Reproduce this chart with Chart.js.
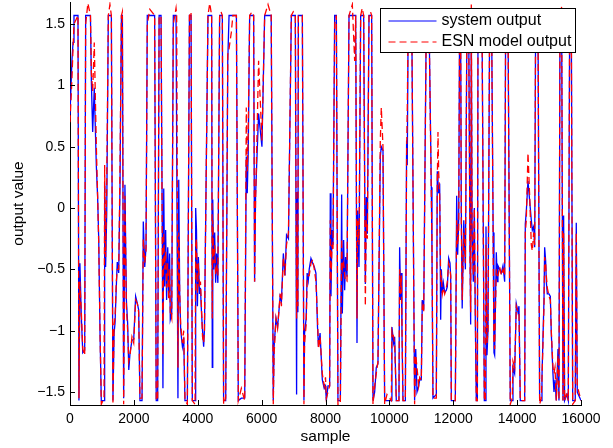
<!DOCTYPE html>
<html>
<head>
<meta charset="utf-8">
<script src="https://cdn.jsdelivr.net/npm/chart.js@4"></script>
<style>
  html, body { margin: 0; padding: 0; background: #fff; }
  #wrap { width: 613px; height: 448px; }
</style>
</head>
<body>
<div id="wrap"><canvas id="myChart" width="613" height="448"></canvas></div>
<script>
// sample index of each breakpoint
var sampleIdx = [
  0, 60, 95, 125, 250, 280, 310, 355, 400, 460, 490, 560, 640, 670, 710, 760, 825, 865, 900, 940,
  980, 1065, 1085, 1115, 1150, 1200, 1250, 1295, 1345, 1380, 1410, 1450, 1480, 1525, 1565, 1610, 1640, 1680, 1720, 1765,
  1805, 1840, 1880, 1940, 1995, 2055, 2110, 2150, 2190, 2255, 2295, 2340, 2380, 2420, 2500, 2650, 2700, 2745, 2790, 2850,
  2890, 2910, 2935, 2965, 2995, 3025, 3060, 3090, 3120, 3140, 3185, 3235, 3320, 3340, 3380, 3405, 3435, 3465, 3520, 3560,
  3600, 3675, 3740, 3790, 3830, 3915, 3935, 3960, 3990, 4020, 4055, 4085, 4115, 4150, 4185, 4210, 4320, 4375, 4435, 4455,
  4470, 4500, 4530, 4560, 4590, 4630, 4685, 4730, 4770, 4810, 4875, 4940, 4980, 5050, 5100, 5210, 5270, 5365, 5470, 5520,
  5550, 5580, 5625, 5700, 5750, 5780, 5810, 5905, 6010, 6095, 6200, 6300, 6365, 6390, 6450, 6500, 6580, 6620, 6680, 6730,
  6780, 6840, 6930, 6990, 7055, 7095, 7110, 7135, 7150, 7275, 7325, 7345, 7395, 7425, 7460, 7490, 7545, 7600, 7650, 7700,
  7750, 7780, 7830, 7900, 7960, 8000, 8026, 8078, 8130, 8150, 8172, 8203, 8235, 8287, 8340, 8390, 8465, 8506, 8527, 8568,
  8600, 8630, 8673, 8736, 8840, 8913, 8945, 8986, 9007, 9049, 9101, 9150, 9195, 9247, 9278, 9310, 9362, 9410, 9445, 9487,
  9540, 9590, 9643, 9716, 9747, 9800, 9852, 9925, 10060, 10080, 10133, 10165, 10217, 10300, 10321, 10353, 10374, 10395, 10426, 10500,
  10540, 10560, 10590, 10700, 10790, 10825, 10865, 10918, 10950, 11000, 11030, 11075, 11157, 11240, 11313, 11334, 11365, 11470, 11500, 11522,
  11543, 11575, 11606, 11627, 11658, 11690, 11732, 11783, 11815, 11857, 11898, 11920, 11940, 12065, 12107, 12138, 12170, 12200, 12230, 12252,
  12280, 12330, 12380, 12430, 12482, 12524, 12545, 12565, 12590, 12628, 12660, 12690, 12722, 12755, 12775, 12900, 12942, 12973, 13004, 13025,
  13056, 13088, 13140, 13200, 13250, 13275, 13296, 13348, 13380, 13400, 13453, 13505, 13557, 13610, 13641, 13714, 13786, 13849, 13870, 13922,
  13974, 14027, 14058, 14099, 14236, 14256, 14287, 14340, 14392, 14444, 14476, 14518, 14550, 14580, 14653, 14705, 14757, 14778, 14810, 14841,
  14862, 14893, 14914, 14945, 14998, 15040, 15070, 15122, 15154, 15186, 15226, 15280, 15310, 15342, 15394, 15436, 15456, 15487, 15560, 15602,
  15645, 15696, 15740, 15820, 15852, 15883, 16000
];

// system output (blue, solid)
var systemOut = [
  0.76, 1.20, 1.35, 1.57, 1.57, -1.57, -0.45, -0.89, -1.18, -1.16, 1.57, 1.57, 1.57, 1.02, 0.62, 0.98, 0.34, 0.09, -0.26, -1.02,
  -1.57, -1.57, 0.21, -0.48, -0.04, 1.57, 1.57, 1.57, -1.57, -1.02, -0.94, -0.64, -0.44, -0.53, 0.17, 1.57, 1.57, -1.55, 0.19, -0.75,
  -0.94, -1.32, -1.18, -1.08, -1.07, -0.72, -0.78, -0.83, -1.57, -1.57, -0.11, -0.48, -0.32, 1.57, 1.57, 1.57, -1.57, -1.57, 1.57, 1.57,
  -0.20, -1.47, 0.16, -0.64, -0.18, -0.75, -0.32, -0.69, -0.37, -0.91, -0.86, 1.57, 1.57, 1.57, -1.55, 0.23, -0.69, -0.99, -1.13, -1.06,
  -1.57, -1.57, 1.57, 1.57, -1.57, -1.57, 0.00, -0.18, -0.80, -0.40, -0.70, -0.65, -0.84, -1.00, -1.13, -0.99, 1.57, 1.57, 1.57, -1.30,
  0.07, -0.50, -0.20, -0.61, -0.37, -0.61, 1.57, 1.57, 1.57, -1.57, -1.57, 1.20, 1.57, 1.57, 1.57, 1.57, -1.57, -1.55, -1.55, 0.42,
  0.12, 0.45, 1.57, 1.57, 1.57, -0.60, 0.10, 0.77, 0.50, 1.57, 1.57, 1.57, -1.57, -1.13, -0.90, -0.97, -0.72, -0.76, -0.37, -0.55,
  -0.22, -0.25, 1.57, 1.57, 1.57, -1.52, 0.13, -0.85, 1.57, 1.57, -1.57, -1.02, -0.90, -0.53, -0.59, -0.50, -0.41, -0.45, -0.48, -0.53,
  -0.97, -1.13, -1.02, -1.40, -1.47, -1.45, -1.57, -1.45, -1.45, 0.12, -0.72, -0.18, -0.30, 1.57, 1.57, -1.57, -1.57, 0.11, -0.86, -0.26,
  -0.67, -0.40, -0.56, 1.57, 1.57, 1.57, 1.57, -1.10, -0.02, -0.48, 1.57, 1.57, 1.57, -0.62, 0.09, -0.21, 1.57, 1.57, 1.57, -1.57,
  -1.50, -1.30, -1.27, 0.42, 0.50, 0.47, -1.57, -1.57, -1.57, -0.97, -1.10, -1.05, -1.57, -1.57, -0.32, -0.75, -0.53, -1.02, -1.57, -1.57,
  0.55, 0.35, 1.57, 1.57, -1.57, -1.15, -1.50, -1.45, -1.40, -1.40, -0.75, -0.83, 1.57, 1.57, 0.17, -0.35, -1.55, -1.52, 0.30, 0.20,
  0.12, 0.20, -0.91, -0.50, -0.69, -0.61, -0.69, -0.67, -0.64, -0.41, -0.45, -0.56, -1.57, -1.57, 0.10, -0.38, -0.10, 1.57, 1.57, 0.00,
  -0.82, -0.10, -0.50, 1.57, 1.57, -0.30, -0.95, 1.57, -0.15, -0.60, 0.00, -0.90, -1.57, -1.57, 1.57, 1.57, -0.20, -1.57, -1.57, -0.15,
  -1.20, -1.00, 1.57, 1.57, -0.20, -1.18, -1.20, -0.36, -0.60, -0.47, -0.50, -0.53, -0.47, -0.60, 1.57, 1.57, -1.57, -1.57, -1.30, -1.35,
  -0.78, -0.85, -0.80, -1.57, -1.57, -0.13, -0.03, 0.22, 0.06, -0.10, -0.18, -0.15, -0.32, 1.57, 1.57, -1.57, -1.57, -1.38, -1.05, -0.75,
  -0.32, -0.43, -0.60, -0.70, -0.70, -0.72, -1.02, -1.35, -1.50, -1.40, -1.57, -1.15, -1.57, 1.57, 1.57, -1.57, -0.06, -1.57, -1.52, -1.57,
  1.57, 1.57, -1.57, -1.57, -0.12, -1.50, -1.57
];

// ESN model output (red, dashed)
var esnOut = [
  0.70, 1.05, 1.30, 1.50, 1.57, -1.55, -0.60, -0.85, -1.15, -1.20, 1.50, 1.67, 1.57, 1.10, 0.95, 1.35, 0.50, 0.10, -0.30, -1.00,
  -1.60, -1.55, 0.35, -0.40, 0.20, 1.57, 1.66, 1.57, -1.60, -0.95, -0.90, -0.60, -0.50, -0.50, 0.30, 1.57, 1.60, -1.60, 0.10, -0.80,
  -1.00, -1.25, -1.20, -1.05, -1.10, -0.75, -0.78, -0.85, -1.55, -1.55, -0.25, -0.45, -0.35, 1.50, 1.62, 1.57, -1.57, -1.55, 1.55, 1.57,
  -0.30, -1.20, -0.20, -0.50, -0.35, -0.65, -0.45, -0.75, -0.50, -0.85, -0.90, 1.50, 1.63, 1.57, -1.30, -0.20, -0.70, -0.95, -1.10, -1.00,
  -1.57, -1.60, 1.57, 1.60, -1.57, -1.60, -0.30, -0.25, -0.70, -0.45, -0.65, -0.60, -0.80, -1.05, -1.10, -1.00, 1.57, 1.67, 1.57, -0.90,
  -0.10, -0.45, -0.30, -0.55, -0.45, -0.55, 1.57, 1.60, 1.57, -1.60, -1.55, 1.25, 1.30, 1.43, 1.57, 1.57, -1.57, -1.47, -1.57, 0.82,
  0.30, 0.60, 1.57, 1.60, 1.57, -0.60, 0.05, 1.20, 0.55, 1.57, 1.66, 1.57, -1.60, -1.20, -0.90, -0.98, -0.70, -0.80, -0.40, -0.55,
  -0.30, -0.20, 1.57, 1.60, 1.57, -0.90, -0.10, -0.80, 1.57, 1.57, -1.60, -1.10, -0.95, -0.60, -0.55, -0.55, -0.45, -0.42, -0.50, -0.60,
  -0.90, -1.15, -1.05, -1.35, -1.45, -1.38, -1.55, -1.50, -1.45, -0.10, -0.60, -0.30, -0.35, 1.50, 1.57, -1.60, -1.60, -0.25, -0.50, -0.45,
  -0.55, -0.60, -0.60, 1.57, 1.66, 1.20, 1.57, -0.90, -0.10, -0.30, 1.57, 1.63, 1.57, -0.80, -0.10, -0.25, 1.57, 1.60, 1.57, -1.60,
  -1.45, -1.35, -1.25, 0.55, 0.82, 0.50, -1.60, -1.52, -1.57, -1.00, -1.05, -1.10, -1.57, -1.57, -0.50, -0.70, -0.55, -0.95, -1.57, -1.57,
  0.45, 0.80, 1.57, 1.57, -1.60, -1.20, -1.30, -1.45, -1.38, -1.40, -0.80, -0.85, 1.57, 1.57, 0.10, -0.30, -1.55, -1.55, 0.20, 0.62,
  0.30, 0.10, -0.60, -0.55, -0.70, -0.65, -0.70, -0.65, -0.60, -0.45, -0.50, -0.55, -1.57, -1.57, -0.10, -0.30, -0.20, 1.57, 1.57, -0.10,
  -0.75, -0.20, -0.45, 1.57, 1.57, -0.40, -0.85, 1.66, -0.20, -0.55, 0.00, -0.80, -1.57, -1.57, 1.57, 1.57, -0.30, -1.57, -1.57, -0.30,
  -1.10, -1.00, 1.57, 1.57, -0.30, -1.10, -1.15, -0.50, -0.55, -0.55, -0.48, -0.55, -0.50, -0.55, 1.57, 1.57, -1.60, -1.55, -1.25, -1.30,
  -0.80, -0.85, -0.85, -1.57, -1.57, -0.20, -0.10, 0.45, 0.10, -0.30, -0.35, -0.20, -0.30, 1.57, 1.57, -1.60, -1.55, -1.40, -1.10, -0.80,
  -0.40, -0.45, -0.55, -0.65, -0.72, -0.75, -1.00, -1.30, -1.35, -1.30, -1.57, -1.20, -1.57, 1.57, 1.64, -1.57, -0.20, -1.57, -1.50, -1.57,
  1.57, 1.57, -1.60, -1.57, -0.20, -1.45, -1.57
];

var xTicks = [0, 2000, 4000, 6000, 8000, 10000, 12000, 14000, 16000];
var yTicks = [-1.5, -1, -0.5, 0, 0.5, 1, 1.5];
var seriesNames = ["system output", "ESN model output"];

var FONT = "'Liberation Sans', Arial, Helvetica, sans-serif";

function fmt(v) {
  return v < 0 ? "\u2212" + Math.abs(v) : String(v);
}

// MATLAB style ticks pointing into the axes + boxed legend inside the plot
var matlabBits = {
  id: "matlabBits",
  afterDraw: function (chart) {
    var ctx = chart.ctx, a = chart.chartArea;
    var xs = chart.scales.x, ys = chart.scales.y;
    ctx.save();
    ctx.strokeStyle = "#000";
    ctx.lineWidth = 1;
    ctx.beginPath();
    xTicks.forEach(function (t) {
      var px = Math.round(xs.getPixelForValue(t)) + 0.5;
      ctx.moveTo(px, a.bottom);
      ctx.lineTo(px, a.bottom - 5);
    });
    yTicks.forEach(function (t) {
      var py = Math.round(ys.getPixelForValue(t)) + 0.5;
      ctx.moveTo(a.left, py);
      ctx.lineTo(a.left + 5, py);
    });
    ctx.stroke();

    // legend
    var bx = a.right - 200.5, by = 8.5, bw = 195, bh = 44;
    ctx.fillStyle = "#fff";
    ctx.fillRect(bx, by, bw, bh);
    ctx.strokeStyle = "#000";
    ctx.strokeRect(bx, by, bw, bh);
    var rows = [by + 12.5, by + 33.5];
    chart.data.datasets.forEach(function (ds, i) {
      var ry = rows[i];
      ctx.beginPath();
      ctx.strokeStyle = ds.borderColor;
      ctx.lineWidth = 1.2;
      ctx.setLineDash(ds.borderDash || []);
      ctx.moveTo(bx + 8, ry);
      ctx.lineTo(bx + 56, ry);
      ctx.stroke();
      ctx.setLineDash([]);
      ctx.fillStyle = "#000";
      ctx.font = "16px " + FONT;
      ctx.textBaseline = "middle";
      ctx.textAlign = "left";
      ctx.fillText(ds.label, bx + 61, ry);
    });
    ctx.restore();
  }
};

function pts(ys) {
  return sampleIdx.map(function (s, i) { return { x: s, y: ys[i] }; });
}

new Chart("myChart", {
  type: "line",
  data: {
    datasets: [
      {
        label: seriesNames[0],
        data: pts(systemOut),
        borderColor: "#0000ff",
        borderWidth: 1.3,
        pointRadius: 0,
        tension: 0,
        order: 1
      },
      {
        label: seriesNames[1],
        data: pts(esnOut),
        borderColor: "#ff0000",
        borderDash: [7, 4],
        borderWidth: 1.3,
        pointRadius: 0,
        tension: 0,
        order: 0
      }
    ]
  },
  options: {
    responsive: false,
    animation: false,
    layout: { padding: { top: 2, right: 32, left: 0, bottom: 0 } },
    plugins: { legend: { display: false }, tooltip: { enabled: false } },
    scales: {
      x: {
        type: "linear",
        min: 0,
        max: 16000,
        afterBuildTicks: function (s) { s.ticks = xTicks.map(function (v) { return { value: v }; }); },
        afterFit: function (s) { s.height = 43; s.paddingLeft = 0; s.paddingRight = 0; },
        grid: { display: true, drawOnChartArea: false, drawTicks: false },
        border: { display: true, color: "#000", width: 1 },
        ticks: {
          color: "#000", padding: 6, maxRotation: 0, autoSkip: false,
          font: { family: FONT, size: 14 },
          callback: function (v) { return String(v); }
        },
        title: {
          display: true, text: "sample", color: "#000",
          font: { family: FONT, size: 15.5 }, padding: { top: 0, bottom: 2 }
        }
      },
      y: {
        min: -1.606,
        max: 1.68,
        afterBuildTicks: function (s) { s.ticks = yTicks.map(function (v) { return { value: v }; }); },
        afterFit: function (s) { s.width = 70; s.paddingTop = 0; s.paddingBottom = 0; },
        grid: { display: true, drawOnChartArea: false, drawTicks: false },
        border: { display: true, color: "#000", width: 1 },
        ticks: {
          color: "#000", padding: 5, autoSkip: false,
          font: { family: FONT, size: 14 },
          callback: function (v) { return fmt(v); }
        },
        title: {
          display: true, text: "output value", color: "#000",
          font: { family: FONT, size: 15.5 }, padding: { top: 9, bottom: 0 }
        }
      }
    }
  },
  plugins: [matlabBits]
});
</script>
</body>
</html>
